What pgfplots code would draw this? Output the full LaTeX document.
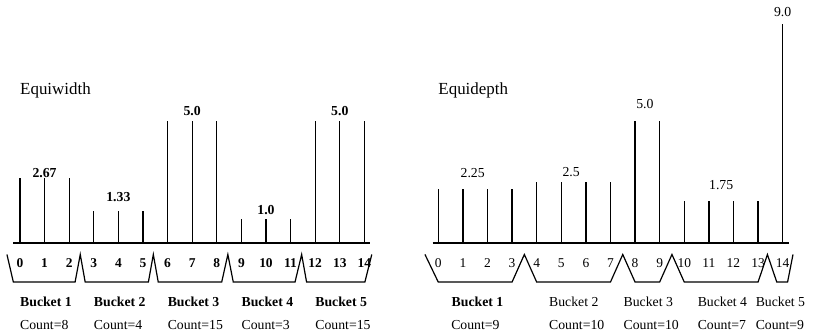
\documentclass[border=0pt]{standalone}
\usepackage{fontspec}
\setmainfont{Liberation Serif}
\usepackage{pgfplots}
\pgfplotsset{compat=1.18}

\begin{document}
\begin{tikzpicture}
\pgfplotsset{
  spk/.style={
    axis x line*=bottom, axis y line=none,
    x=24.6bp, y=24.4bp, ymin=0, ymax=9.5, clip=false,
    xtick={0,1,2,3,4,5,6,7,8,9,10,11,12,13,14}, ytick=\empty,
    major tick length=0pt,
    x axis line style={line width=2bp,-},
    xticklabels={0,1,2,3,4,5,6,7,8,9,10,11,12,13,14},
    xticklabel style={anchor=north, inner sep=0pt, yshift=-15bp},
    /pgf/number format/assume math mode=true,
    anchor=south west},
  comb/.style={ycomb, black, line width=1.3bp, mark=none},
  brk/.style={black, line width=1.2bp, mark=none, line join=miter},
}
\newcommand{\tfont}{\fontsize{17}{20}\selectfont}
\newcommand{\lfont}{\fontsize{13.8}{16}\selectfont}

% ---------------- Equiwidth ----------------
\begin{axis}[spk, at={(13.1bp,92.5bp)}, xmin=-0.28, xmax=14.23,
  xticklabel style={font=\bfseries\fontsize{13.5}{15}\selectfont}]
\addplot[comb] coordinates {
 (0,2.67) (1,2.67) (2,2.67) (3,1.33) (4,1.33) (5,1.33)
 (6,5.0) (7,5.0) (8,5.0) (9,1.0) (10,1.0) (11,1.0)
 (12,5.0) (13,5.0) (14,5.0)};
\addplot[brk] coordinates {
 (-0.53,-0.45) (-0.27,-1.58) (2.24,-1.58) (2.45,-0.45) (2.65,-1.58)
 (5.22,-1.58) (5.42,-0.45) (5.62,-1.58) (8.2,-1.58) (8.45,-0.45)
 (8.67,-1.58) (11.18,-1.58) (11.45,-0.45) (11.65,-1.58) (14.02,-1.58)
 (14.3,-0.45)};
\node[anchor=west, inner sep=0pt, font=\tfont] at (axis cs:0,6.26) {Equiwidth};
\node[font=\bfseries\lfont] at (axis cs:1,2.90) {2.67};
\node[font=\bfseries\lfont] at (axis cs:4,1.92) {1.33};
\node[font=\bfseries\lfont] at (axis cs:7,5.43) {5.0};
\node[font=\bfseries\lfont] at (axis cs:10,1.37) {1.0};
\node[font=\bfseries\lfont] at (axis cs:13,5.43) {5.0};
\node[anchor=west, inner sep=0pt, font=\bfseries\lfont] at (axis cs:0,-2.39) {Bucket 1};
\node[anchor=west, inner sep=0pt, font=\bfseries\lfont] at (axis cs:3,-2.39) {Bucket 2};
\node[anchor=west, inner sep=0pt, font=\bfseries\lfont] at (axis cs:6,-2.39) {Bucket 3};
\node[anchor=west, inner sep=0pt, font=\bfseries\lfont] at (axis cs:9,-2.39) {Bucket 4};
\node[anchor=west, inner sep=0pt, font=\bfseries\lfont] at (axis cs:12,-2.39) {Bucket 5};
\node[anchor=west, inner sep=0pt, font=\lfont] at (axis cs:0,-3.36) {Count=8};
\node[anchor=west, inner sep=0pt, font=\lfont] at (axis cs:3,-3.36) {Count=4};
\node[anchor=west, inner sep=0pt, font=\lfont] at (axis cs:6,-3.36) {Count=15};
\node[anchor=west, inner sep=0pt, font=\lfont] at (axis cs:9,-3.36) {Count=3};
\node[anchor=west, inner sep=0pt, font=\lfont] at (axis cs:12,-3.36) {Count=15};
\end{axis}

% ---------------- Equidepth ----------------
\begin{axis}[spk, at={(432.6bp,92.5bp)}, xmin=-0.23, xmax=14.26,
  xticklabel style={font=\fontsize{13.5}{15}\selectfont}]
\addplot[comb] coordinates {
 (0,2.25) (1,2.25) (2,2.25) (3,2.25) (4,2.5) (5,2.5) (6,2.5) (7,2.5)
 (8,5.0) (9,5.0) (10,1.75) (11,1.75) (12,1.75) (13,1.75) (14,9.0)};
\addplot[brk] coordinates {
 (-0.54,-0.45) (0,-1.58) (3.0,-1.58) (3.5,-0.45) (4.0,-1.58)
 (7.0,-1.58) (7.5,-0.45) (8.0,-1.58) (9.0,-1.58) (9.5,-0.45)
 (10.0,-1.58) (13.0,-1.58) (13.38,-0.45) (13.76,-1.58) (14.2,-1.58)
 (14.42,-0.45)};
\node[anchor=west, inner sep=0pt, font=\tfont] at (axis cs:0,6.26) {Equidepth};
\node[font=\lfont] at (axis cs:1.4,2.89) {2.25};
\node[font=\lfont] at (axis cs:5.4,2.93) {2.5};
\node[font=\lfont] at (axis cs:8.4,5.72) {5.0};
\node[font=\lfont] at (axis cs:11.5,2.40) {1.75};
\node[font=\lfont] at (axis cs:14,9.49) {9.0};
\node[anchor=west, inner sep=0pt, font=\bfseries\lfont] at (axis cs:0.54,-2.39) {Bucket 1};
\node[anchor=west, inner sep=0pt, font=\lfont] at (axis cs:4.5,-2.39) {Bucket 2};
\node[anchor=west, inner sep=0pt, font=\lfont] at (axis cs:7.53,-2.39) {Bucket 3};
\node[anchor=west, inner sep=0pt, font=\lfont] at (axis cs:10.54,-2.39) {Bucket 4};
\node[anchor=west, inner sep=0pt, font=\lfont] at (axis cs:12.9,-2.39) {Bucket 5};
\node[anchor=west, inner sep=0pt, font=\lfont] at (axis cs:0.52,-3.36) {Count=9};
\node[anchor=west, inner sep=0pt, font=\lfont] at (axis cs:4.5,-3.36) {Count=10};
\node[anchor=west, inner sep=0pt, font=\lfont] at (axis cs:7.53,-3.36) {Count=10};
\node[anchor=west, inner sep=0pt, font=\lfont] at (axis cs:10.54,-3.36) {Count=7};
\node[anchor=west, inner sep=0pt, font=\lfont] at (axis cs:12.9,-3.36) {Count=9};
\end{axis}

\pgfresetboundingbox
\path[use as bounding box] (0,0) rectangle (821bp,336bp);
\end{tikzpicture}
\end{document}
